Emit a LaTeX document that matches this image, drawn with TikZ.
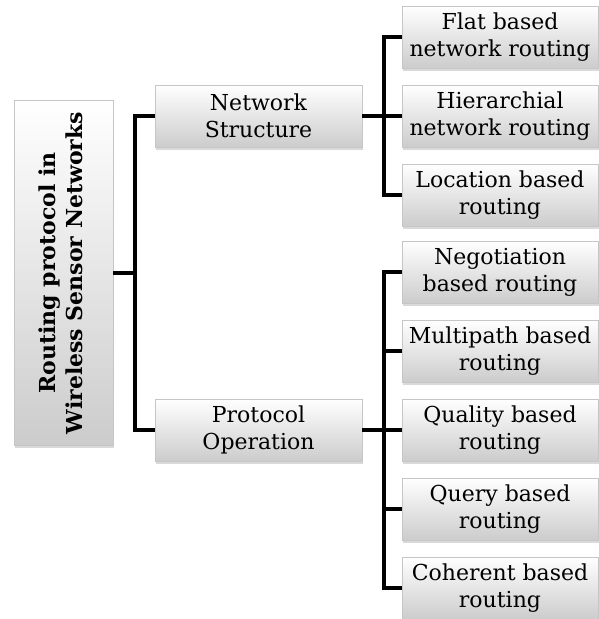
\documentclass[tikz,border=0pt]{standalone}
\usepackage{fontspec}
\setmainfont{DejaVu Serif}
\usetikzlibrary{shadows}

\begin{document}
\begin{tikzpicture}[x=1pt, y=1pt]
        \useasboundingbox (0,0) rectangle (599,619);
        \tikzstyle{every node}=[draw=gray!45, line width=0.6pt, top color=white, bottom color=gray!40, drop shadow={shadow xshift=1pt, shadow yshift=-3pt, opacity=0.3}, align=center, inner sep=0pt, font=\fontsize{22}{27}\selectfont];
        \tikzstyle{rootbox}=[minimum width=99pt, minimum height=345pt];
        \tikzstyle{midbox}=[minimum width=207pt, minimum height=62pt];
        \tikzstyle{leafbox}=[minimum width=196pt, minimum height=62pt];
        \node[rootbox] (root) at (63.5,346) {\rotatebox{90}{\bfseries\begin{tabular}{@{}c@{}}Routing protocol in\\Wireless Sensor Networks\end{tabular}}}
        [grow'=right, edge from parent/.style={draw, black, line width=3.8pt},
         edge from parent path={(\tikzparentnode.east) -- +(21.5pt,0) |- (\tikzchildnode.west)},
         level 1/.style={level distance=195pt, sibling distance=314pt},
         level 2/.style={level distance=241.5pt, sibling distance=79pt}]
        child { node[midbox] (netstruct) {Network\\Structure}
            child {node[leafbox] (flat) {Flat based\\network routing}}
            child {node[leafbox] (hier) {Hierarchial\\network routing}}
            child {node[leafbox] (location) {Location based\\routing}}
        }
        child { node[midbox] (protoop) {Protocol\\Operation}
            child {node[leafbox] (negotiation) {Negotiation\\based routing}}
            child {node[leafbox] (multipath) {Multipath based\\routing}}
            child {node[leafbox] (quality) {Quality based\\routing}}
            child {node[leafbox] (query) {Query based\\routing}}
            child {node[leafbox] (coherent) {Coherent based\\routing}}
        };
    \end{tikzpicture}
\end{document}
